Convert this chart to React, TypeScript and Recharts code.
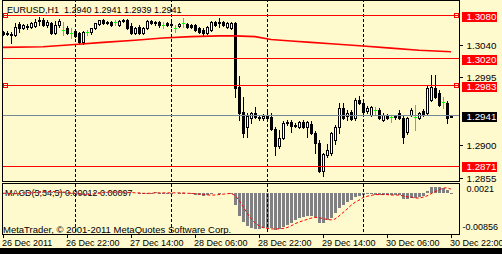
import React from 'react';
import { ComposedChart, Bar, Line, XAxis, YAxis, ReferenceLine, ReferenceDot } from 'recharts';

const FONT = '"Liberation Sans", Arial, sans-serif';
const BG = '#FFFACD';

const OPEN = [
  1.3057, 1.3056, 1.3055, 1.3053, 1.3069, 1.3063, 1.3066, 1.3064, 1.3066, 1.3073,
  1.3074, 1.3067, 1.3070, 1.3056, 1.3067, 1.3060, 1.3063, 1.3056, 1.3059, 1.3056,
  1.3044, 1.3057, 1.3057, 1.3063, 1.3069, 1.3074, 1.3070, 1.3071, 1.3071, 1.3067,
  1.3073, 1.3074, 1.3066, 1.3056, 1.3064, 1.3056, 1.3063, 1.3073, 1.3070, 1.3071,
  1.3067, 1.3070, 1.3067, 1.3063, 1.3066, 1.3070, 1.3069, 1.3067, 1.3067, 1.3063,
  1.3060, 1.3056, 1.3060, 1.3071, 1.3070, 1.3071, 1.3064, 1.3063, 1.3070, 1.2981,
  1.2946, 1.2926, 1.2938, 1.2945, 1.2939, 1.2938, 1.2941, 1.2939, 1.2923, 1.2899,
  1.2910, 1.2931, 1.2932, 1.2928, 1.2926, 1.2932, 1.2926, 1.2930, 1.2917, 1.2903,
  1.2865, 1.2887, 1.2890, 1.2908, 1.2926, 1.2952, 1.2941, 1.2946, 1.2938, 1.2963,
  1.2959, 1.2948, 1.2942, 1.2949, 1.2949, 1.2935, 1.2941, 1.2939, 1.2939, 1.2945,
  1.2938, 1.2919, 1.2942, 1.2939, 1.2938, 1.2948, 1.2945, 1.2963, 1.2980, 1.2973,
  1.2960, 1.2959, 1.2940,
];
const HIGH = [
  1.3059, 1.3059, 1.3057, 1.3070, 1.3071, 1.3069, 1.3069, 1.3071, 1.3075, 1.3078,
  1.3077, 1.3074, 1.3071, 1.3073, 1.3075, 1.3071, 1.3066, 1.3063, 1.3060, 1.3057,
  1.3059, 1.3060, 1.3063, 1.3070, 1.3074, 1.3075, 1.3073, 1.3073, 1.3074, 1.3074,
  1.3075, 1.3075, 1.3070, 1.3064, 1.3067, 1.3064, 1.3074, 1.3074, 1.3073, 1.3073,
  1.3071, 1.3071, 1.3071, 1.3067, 1.3070, 1.3077, 1.3070, 1.3069, 1.3069, 1.3064,
  1.3063, 1.3066, 1.3073, 1.3073, 1.3077, 1.3073, 1.3071, 1.3071, 1.3071, 1.2996,
  1.2967, 1.2945, 1.2946, 1.2953, 1.2942, 1.2944, 1.2949, 1.2945, 1.2926, 1.2921,
  1.2934, 1.2935, 1.2935, 1.2931, 1.2934, 1.2935, 1.2934, 1.2934, 1.2920, 1.2908,
  1.2890, 1.2902, 1.2919, 1.2928, 1.2959, 1.2959, 1.2949, 1.2949, 1.2966, 1.2969,
  1.2962, 1.2955, 1.2955, 1.2953, 1.2952, 1.2945, 1.2944, 1.2942, 1.2942, 1.2949,
  1.2941, 1.2939, 1.2952, 1.2956, 1.2946, 1.2951, 1.2982, 1.2998, 1.2998, 1.2977,
  1.2967, 1.2962, 1.2941,
];
const LOW = [
  1.3053, 1.3053, 1.3042, 1.3052, 1.3057, 1.3062, 1.3062, 1.3063, 1.3064, 1.3067,
  1.3066, 1.3064, 1.3055, 1.3055, 1.3064, 1.3053, 1.3055, 1.3049, 1.3050, 1.3042,
  1.3041, 1.3053, 1.3055, 1.3062, 1.3067, 1.3069, 1.3069, 1.3066, 1.3067, 1.3066,
  1.3071, 1.3062, 1.3055, 1.3055, 1.3055, 1.3055, 1.3062, 1.3069, 1.3067, 1.3064,
  1.3063, 1.3066, 1.3064, 1.3057, 1.3064, 1.3064, 1.3063, 1.3063, 1.3059, 1.3056,
  1.3053, 1.3055, 1.3059, 1.3066, 1.3064, 1.3066, 1.3063, 1.3062, 1.2967, 1.2935,
  1.2912, 1.2912, 1.2931, 1.2938, 1.2935, 1.2935, 1.2935, 1.2921, 1.2887, 1.2896,
  1.2909, 1.2928, 1.2919, 1.2926, 1.2924, 1.2924, 1.2912, 1.2916, 1.2890, 1.2863,
  1.2858, 1.2884, 1.2887, 1.2902, 1.2917, 1.2937, 1.2935, 1.2935, 1.2935, 1.2957,
  1.2945, 1.2945, 1.2941, 1.2944, 1.2937, 1.2934, 1.2937, 1.2932, 1.2937, 1.2937,
  1.2903, 1.2916, 1.2941, 1.2921, 1.2937, 1.2941, 1.2942, 1.2962, 1.2966, 1.2955,
  1.2952, 1.2931, 1.2939,
];
const CLOSE = [
  1.3055, 1.3055, 1.3053, 1.3064, 1.3063, 1.3067, 1.3064, 1.3070, 1.3071, 1.3074,
  1.3067, 1.3071, 1.3056, 1.3067, 1.3073, 1.3060, 1.3056, 1.3056, 1.3052, 1.3044,
  1.3057, 1.3057, 1.3063, 1.3070, 1.3074, 1.3070, 1.3071, 1.3067, 1.3071, 1.3073,
  1.3074, 1.3063, 1.3056, 1.3063, 1.3056, 1.3063, 1.3073, 1.3070, 1.3071, 1.3067,
  1.3067, 1.3067, 1.3069, 1.3063, 1.3069, 1.3070, 1.3064, 1.3064, 1.3060, 1.3057,
  1.3056, 1.3064, 1.3071, 1.3067, 1.3071, 1.3067, 1.3070, 1.3070, 1.2980, 1.2945,
  1.2917, 1.2941, 1.2945, 1.2939, 1.2938, 1.2941, 1.2938, 1.2923, 1.2899, 1.2910,
  1.2931, 1.2932, 1.2927, 1.2927, 1.2932, 1.2926, 1.2932, 1.2917, 1.2903, 1.2865,
  1.2888, 1.2894, 1.2917, 1.2926, 1.2952, 1.2938, 1.2945, 1.2937, 1.2963, 1.2959,
  1.2946, 1.2952, 1.2953, 1.2949, 1.2938, 1.2942, 1.2938, 1.2939, 1.2941, 1.2938,
  1.2912, 1.2938, 1.2949, 1.2939, 1.2945, 1.2942, 1.2980, 1.2981, 1.2967, 1.2956,
  1.2960, 1.2938, 1.2941,
];

const MA_INDEX = [0, 10, 18, 25, 33, 40, 47, 54, 58, 63, 67, 72, 77, 82, 90, 97, 104, 112];
const MA_VALUE = [1.3036, 1.3037, 1.3040, 1.3043, 1.3046, 1.3049, 1.3051, 1.3052, 1.3052, 1.3051, 1.3047, 1.3045, 1.3043, 1.3041, 1.3038, 1.3035, 1.3032, 1.3030];

const MACD = [
  0.0000, -0.0001, -0.0002, 0.0000, 0.0001, 0.0002, 0.0002, 0.0003, 0.0004, 0.0005,
  0.0004, 0.0004, 0.0002, 0.0002, 0.0003, 0.0002, 0.0001, -0.0001, -0.0002, -0.0004,
  -0.0003, -0.0002, 0.0000, 0.0002, 0.0003, 0.0003, 0.0003, 0.0002, 0.0002, 0.0003,
  0.0003, 0.0002, 0.0000, 0.0000, -0.0001, -0.0001, 0.0001, 0.0001, 0.0002, 0.0001,
  0.0001, 0.0001, 0.0001, 0.0000, 0.0001, 0.0001, 0.0000, -0.0002, -0.0003, -0.0005,
  -0.0006, -0.0004, -0.0001, 0.0000, 0.0001, 0.0000, 0.0000, 0.0001, -0.0027, -0.0053,
  -0.0066, -0.0076, -0.0082, -0.0084, -0.0084, -0.0082, -0.0081, -0.0081, -0.00856, -0.0084,
  -0.0078, -0.0074, -0.0069, -0.0062, -0.0058, -0.0055, -0.0052, -0.0052, -0.0055, -0.0069,
  -0.0069, -0.0062, -0.0058, -0.0047, -0.0035, -0.0027, -0.0020, -0.0016, -0.0009, -0.0006,
  -0.0004, -0.0002, -0.0002, -0.0003, -0.0003, -0.0003, -0.0004, -0.0004, -0.0004, -0.0005,
  -0.0014, -0.0014, -0.0012, -0.0012, -0.0009, -0.0006, 0.0005, 0.0015, 0.0015, 0.0015,
  0.0012, 0.0008, 0.00012,
];
const SIGNAL = [
  0.0000, 0.0000, -0.0001, -0.0001, -0.0001, 0.0000, 0.0001, 0.0001, 0.0002, 0.0003,
  0.0004, 0.0004, 0.0004, 0.0004, 0.0003, 0.0003, 0.0002, 0.0001, 0.0000, -0.0001,
  -0.0002, -0.0003, -0.0002, -0.0001, 0.0000, 0.0002, 0.0003, 0.0003, 0.0003, 0.0003,
  0.0003, 0.0002, 0.0002, 0.0001, 0.0001, 0.0000, 0.0000, 0.0000, 0.0001, 0.0001,
  0.0001, 0.0001, 0.0001, 0.0001, 0.0001, 0.0001, 0.0000, 0.0000, -0.0001, -0.0002,
  -0.0003, -0.0004, -0.0004, -0.0004, -0.0003, -0.0002, -0.0001, 0.0000, -0.0005, -0.0016,
  -0.0031, -0.0046, -0.0059, -0.0069, -0.0076, -0.0080, -0.0082, -0.0083, -0.0083, -0.0083,
  -0.0082, -0.0080, -0.0076, -0.0071, -0.0067, -0.0064, -0.0061, -0.0058, -0.0056, -0.0057,
  -0.0059, -0.0061, -0.0062, -0.0060, -0.0053, -0.0045, -0.0037, -0.0028, -0.0021, -0.0016,
  -0.0010, -0.0007, -0.0005, -0.0003, -0.0003, -0.0003, -0.0003, -0.0004, -0.0004, -0.0004,
  -0.0006, -0.0008, -0.0009, -0.0011, -0.0011, -0.0009, -0.0006, -0.0001, 0.0004, 0.0008,
  0.0012, 0.0013, 0.00097,
];

const SLOTS = 115;
const TIME_TICKS = [0, 16, 32, 48, 64, 80, 96, 112];
const TIME_LABELS = ['26 Dec 2011', '26 Dec 22:00', '27 Dec 14:00', '28 Dec 06:00', '28 Dec 22:00', '29 Dec 14:00', '30 Dec 06:00', '30 Dec 22:00'];
const DAY_SEPARATORS = [18, 42, 66, 90, 114];
const RED_LEVELS = [1.3080, 1.3020, 1.2983, 1.2871];
const MARKED_LEVELS = [1.3080, 1.2983];
const BID = 1.2941;
const PRICE_TICKS = [1.3040, 1.2995, 1.2900, 1.2855];
const PRICE_MIN = 1.28492;
const PRICE_MAX = 1.31018;
const MACD_MIN = -0.00856;
const MACD_MAX = 0.00217;
const MACD_AXIS_LABELS = ['0.0021', '-0.00856'];
const TITLE = 'EURUSD,H1  1.2940 1.2941 1.2939 1.2941';
const MACD_TITLE = 'MACD(5,34,5) 0.00012 0.00097';
const COPYRIGHT = 'MetaTrader, \u00A9 2001-2011 MetaQuotes Software Corp.';

const rows = Array.from({ length: SLOTS }, (_, i) => {
  const r: any = { i };
  if (i < OPEN.length) {
    r.o = OPEN[i];
    r.h = HIGH[i];
    r.l = LOW[i];
    r.c = CLOSE[i];
    r.range = [LOW[i], HIGH[i]];
    r.macd = MACD[i];
    r.signal = SIGNAL[i];
  }
  const k = MA_INDEX.indexOf(i);
  if (k >= 0) r.ma = MA_VALUE[k];
  return r;
});

const priceTicks = [...PRICE_TICKS, ...RED_LEVELS, BID].sort((a, b) => b - a);

const Candle = (props: any) => {
  const { x, y, width, height } = props;
  const d = props.payload || props;
  if (d == null || d.o == null || !isFinite(y) || !isFinite(height)) return null;
  const hi = d.h;
  const lo = d.l;
  const py = (p: number) => y + ((hi - p) / (hi - lo)) * height;
  const cx = Math.round(x + width / 2);
  const yH = Math.round(py(hi));
  const yL = Math.round(py(lo));
  const yO = Math.round(py(d.o));
  const yC = Math.round(py(d.c));
  if (d.o === d.c) {
    return (
      <g>
        <rect x={cx} y={yH} width={1} height={Math.max(1, yL - yH + 1)} fill="#00FF00" />
        <rect x={cx - 1} y={yO} width={3} height={1} fill="#00FF00" />
      </g>
    );
  }
  const top = Math.min(yO, yC);
  const h = Math.max(1, Math.abs(yO - yC) + 1);
  const bull = d.c > d.o;
  return (
    <g>
      <rect x={cx} y={yH} width={1} height={Math.max(1, yL - yH + 1)} fill="#000" />
      <rect x={cx - 1} y={top} width={3} height={h} fill="#000" />
      {bull && h > 2 ? <rect x={cx} y={top + 1} width={1} height={h - 2} fill="#fff" /> : null}
    </g>
  );
};

const Hist = (props: any) => {
  const { x, y, width, height } = props;
  if (!isFinite(y) || !isFinite(height)) return null;
  const cx = Math.round(x + width / 2);
  const t = Math.round(Math.min(y, y + height));
  const b = Math.round(Math.max(y, y + height));
  if (Math.abs(height) < 0.3) return null;
  return <rect x={cx - 1} y={t} width={3} height={Math.max(1, b - t)} fill="#808080" />;
};

const PriceTick = (props: any) => {
  const { x, y, payload } = props;
  const v = payload.value;
  const cy = Math.round(y);
  const isRed = RED_LEVELS.some((r) => Math.abs(r - v) < 1e-7);
  const isBid = Math.abs(BID - v) < 1e-7;
  const label = v.toFixed(4);
  if (isRed || isBid) {
    return (
      <g>
        <rect x={x + 1} y={cy - 4} width={35} height={10} fill={isRed ? '#FF0000' : '#000'} />
        <text x={x + 5.5} y={cy + 4} fill="#fff" fontSize={9.8} fontFamily={FONT}>{label}</text>
      </g>
    );
  }
  return (
    <g>
      <rect x={x - 1} y={cy} width={3} height={1} fill="#000" />
      <text x={x + 5.5} y={cy + 3.5} fill="#000" fontSize={9.8} fontFamily={FONT}>{label}</text>
    </g>
  );
};

const MacdTick = (props: any) => {
  const { x, y, payload } = props;
  const isTop = Math.abs(payload.value - MACD_MAX) < 1e-9;
  const label = isTop ? MACD_AXIS_LABELS[0] : MACD_AXIS_LABELS[1];
  return (
    <text x={isTop ? x + 5.5 : x + 1.5} y={isTop ? y + 8 : y} fill="#000" fontSize={9} fontFamily={FONT}>{label}</text>
  );
};

const TimeTick = (props: any) => {
  const { x, y, payload } = props;
  const k = TIME_TICKS.indexOf(payload.value);
  if (k < 0) return null;
  return (
    <g>
      <rect x={Math.round(x)} y={y + 5} width={1} height={3} fill="#000" />
      <text x={x - 1} y={y + 16} fill="#000" fontSize={9} fontFamily={FONT}>{TIME_LABELS[k]}</text>
    </g>
  );
};

const squareLeft = (p: any) => (
  <rect x={Math.round(p.cx) + 0.5} y={Math.round(p.cy) - 2.5} width={4} height={4} fill="none" stroke="#FF0000" strokeWidth={1} />
);
const squareRight = (p: any) => (
  <rect x={Math.round(p.cx) - 4.5} y={Math.round(p.cy) - 2.5} width={4} height={4} fill="none" stroke="#FF0000" strokeWidth={1} />
);

export default function App() {
  return (
    <div style={{ position: 'absolute', left: 0, top: 0, width: 502, height: 254, background: BG, overflow: 'hidden' }}>
      <svg width={502} height={254} style={{ position: 'absolute', left: 0, top: 0 }}>
        <rect x={2.5} y={0.5} width={457} height={181} fill="none" stroke="#000" strokeWidth={1} />
        <rect x={2.5} y={183.5} width={457} height={51} fill="none" stroke="#000" strokeWidth={1} />
        <rect x={0} y={248} width={502} height={6} fill="#000" />
        <text x={5} y={196} fontSize={9} fontFamily={FONT} fill="#000">{MACD_TITLE}</text>
        <text x={3} y={233} fontSize={9.5} fontFamily={FONT} fill="#000">{COPYRIGHT}</text>
      </svg>
      <div style={{ position: 'absolute', left: 0, top: 0 }}>
        <ComposedChart width={502} height={182} data={rows} margin={{ top: 0, right: 0, bottom: 0, left: 1 }}>
          <XAxis dataKey="i" type="category" hide />
          <YAxis
            orientation="right"
            width={41}
            type="number"
            domain={[PRICE_MIN, PRICE_MAX]}
            allowDataOverflow
            ticks={priceTicks}
            interval={0}
            tick={(p: any) => <PriceTick {...p} />}
            tickLine={false}
            axisLine={false}
            tickSize={0}
            tickMargin={0}
          />
          {DAY_SEPARATORS.map((d) => (
            <ReferenceLine key={'sep' + d} x={d} stroke="#000" strokeDasharray="3 2" shapeRendering="crispEdges" />
          ))}
          <ReferenceLine segment={[{ x: 0, y: BID }, { x: 114, y: BID }]} stroke="#778899" shapeRendering="crispEdges" />
          {RED_LEVELS.map((lv) => (
            <ReferenceLine key={'lv' + lv} segment={[{ x: 0, y: lv }, { x: 114, y: lv }]} stroke="#FF0000" shapeRendering="crispEdges" />
          ))}
          <Line dataKey="ma" stroke="#FF0000" strokeWidth={1.6} dot={false} connectNulls isAnimationActive={false} />
          <Bar dataKey="range" shape={(p: any) => <Candle {...p} />} isAnimationActive={false} />
          {MARKED_LEVELS.map((lv) => (
            <ReferenceDot key={'ml' + lv} x={0} y={lv} r={2} shape={squareLeft} />
          ))}
          {MARKED_LEVELS.map((lv) => (
            <ReferenceDot key={'mr' + lv} x={114} y={lv} r={2} shape={squareRight} />
          ))}
        </ComposedChart>
      </div>
      <div style={{ position: 'absolute', left: 0, top: 0 }}>
        <ComposedChart width={502} height={254} data={rows} margin={{ top: 184, right: 0, bottom: 4, left: 1 }}>
          <XAxis
            dataKey="i"
            type="category"
            height={20}
            ticks={TIME_TICKS}
            interval={0}
            tick={(p: any) => <TimeTick {...p} />}
            tickLine={false}
            axisLine={false}
            tickSize={0}
            tickMargin={0}
          />
          <YAxis
            orientation="right"
            width={41}
            type="number"
            domain={[MACD_MIN, MACD_MAX]}
            allowDataOverflow
            ticks={[MACD_MAX, MACD_MIN]}
            interval={0}
            tick={(p: any) => <MacdTick {...p} />}
            tickLine={false}
            axisLine={false}
            tickSize={0}
            tickMargin={0}
          />
          {DAY_SEPARATORS.map((d) => (
            <ReferenceLine
              key={'msep' + d}
              segment={[{ x: d, y: MACD_MAX }, { x: d, y: -0.0097 }]}
              ifOverflow="visible"
              stroke="#000"
              strokeDasharray="3 2"
              shapeRendering="crispEdges"
            />
          ))}
          <Bar dataKey="macd" shape={(p: any) => <Hist {...p} />} isAnimationActive={false} />
          <Line dataKey="signal" stroke="#FF0000" strokeWidth={1} strokeDasharray="3 2" dot={false} isAnimationActive={false} />
        </ComposedChart>
      </div>
      <svg width={502} height={20} style={{ position: 'absolute', left: 0, top: 0 }}>
        <text x={7} y={13} fontSize={9} fontFamily={FONT} fill="#000" style={{ whiteSpace: 'pre' }}>{TITLE}</text>
      </svg>
    </div>
  );
}
